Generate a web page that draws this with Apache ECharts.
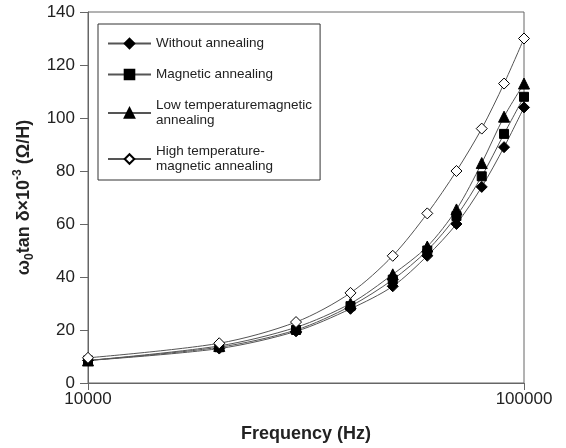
<!DOCTYPE html>
<html>
<head>
<meta charset="utf-8">
<script src="https://cdn.jsdelivr.net/npm/echarts@6/dist/echarts.min.js"></script>
<style>
html,body{margin:0;padding:0;background:#fff;}
#main{width:566px;height:448px;}
</style>
</head>
<body>
<div id="main"></div>
<script>
var freq = [10000, 20000, 30000, 40000, 50000, 60000, 70000, 80000, 90000, 100000];
var withoutAnn = [8.5, 13, 19.5, 28, 36.5, 48, 60, 74, 89, 104];
var magneticAnn = [8.5, 13.5, 20, 29, 39, 50, 63, 78, 94, 108];
var lowTempAnn = [8.5, 14, 21, 30, 41, 51.5, 65.5, 83, 100.5, 113];
var highTempAnn = [9.5, 15, 23, 34, 48, 64, 80, 96, 113, 130];
var names = ['Without annealing', 'Magnetic annealing', 'Low temperaturemagnetic annealing', 'High temperature-magnetic annealing'];
var legendText = {
    'Without annealing': 'Without annealing',
    'Magnetic annealing': 'Magnetic annealing',
    'Low temperaturemagnetic annealing': 'Low temperaturemagnetic\nannealing',
    'High temperature-magnetic annealing': 'High temperature-\nmagnetic annealing'
};

function pairs(ys){
    var out = [];
    for (var i = 0; i < freq.length; i++) {
        out.push([freq[i], ys[i]]);
    }
    return out;
}

var dom = document.getElementById("main");
var myChart = echarts.init(dom);
var font = 'Liberation Sans, Arial, sans-serif';

function mkSeries(name, ys, symbol, size, fill){
    return {
        name: name,
        type: 'line',
        data: pairs(ys),
        smooth: 0.3,
        symbol: symbol,
        symbolSize: size,
        showSymbol: true,
        lineStyle: {color: '#555', width: 1},
        itemStyle: {color: fill, borderColor: '#000', borderWidth: 1},
        animation: false
    };
}

var option = {
    backgroundColor: '#fff',
    grid: {
        left: 88, right: 42, top: 12, bottom: 64,
        show: true, borderColor: '#666', borderWidth: 1
    },
    legend: {
        orient: 'vertical',
        left: 98,
        top: 24,
        padding: [12, 8, 6, 9],
        borderColor: '#333',
        borderWidth: 1,
        itemWidth: 43,
        itemHeight: 12,
        itemGap: 16,
        data: names,
        formatter: function(n){ return legendText[n]; },
        textStyle: {fontFamily: font, fontSize: 13.5, color: '#222', lineHeight: 15}
    },
    xAxis: {
        type: 'log',
        logBase: 10,
        min: 10000,
        max: 100000,
        name: 'Frequency (Hz)',
        nameLocation: 'middle',
        nameGap: 42,
        nameTextStyle: {fontFamily: font, fontSize: 18, fontWeight: 'bold', color: '#222'},
        axisLine: {lineStyle: {color: '#666'}},
        axisTick: {show: true, length: 7, lineStyle: {color: '#666'}},
        minorTick: {show: false},
        splitLine: {show: false},
        axisLabel: {fontFamily: font, fontSize: 17, color: '#222', margin: 8,
            formatter: function(v){ return String(v); }}
    },
    yAxis: {
        type: 'value',
        min: 0,
        max: 140,
        interval: 20,
        name: '{b|ω}{s|0}{b|tan δ×10}{p|-3}{b| (Ω/H)}',
        nameLocation: 'middle',
        nameGap: 52,
        nameTextStyle: {
            fontFamily: font, fontSize: 18, fontWeight: 'bold', color: '#222',
            rich: {
                b: {fontFamily: font, fontSize: 18, fontWeight: 'bold', color: '#222', lineHeight: 24},
                s: {fontFamily: font, fontSize: 12, fontWeight: 'bold', color: '#222', verticalAlign: 'bottom'},
                p: {fontFamily: font, fontSize: 12, fontWeight: 'bold', color: '#222', verticalAlign: 'top'}
            }
        },
        axisLine: {show: true, lineStyle: {color: '#666'}},
        axisTick: {show: true, length: 8, lineStyle: {color: '#666'}},
        splitLine: {show: false},
        axisLabel: {fontFamily: font, fontSize: 17, color: '#222', margin: 13}
    },
    series: [
        mkSeries(names[0], withoutAnn, 'diamond', 11, '#000'),
        mkSeries(names[1], magneticAnn, 'rect', 9, '#000'),
        mkSeries(names[2], lowTempAnn, 'triangle', 11, '#000'),
        mkSeries(names[3], highTempAnn, 'diamond', 11, '#fff')
    ]
};

if (option && typeof option === "object") {
    myChart.setOption(option, true);
}
</script>
</body>
</html>
